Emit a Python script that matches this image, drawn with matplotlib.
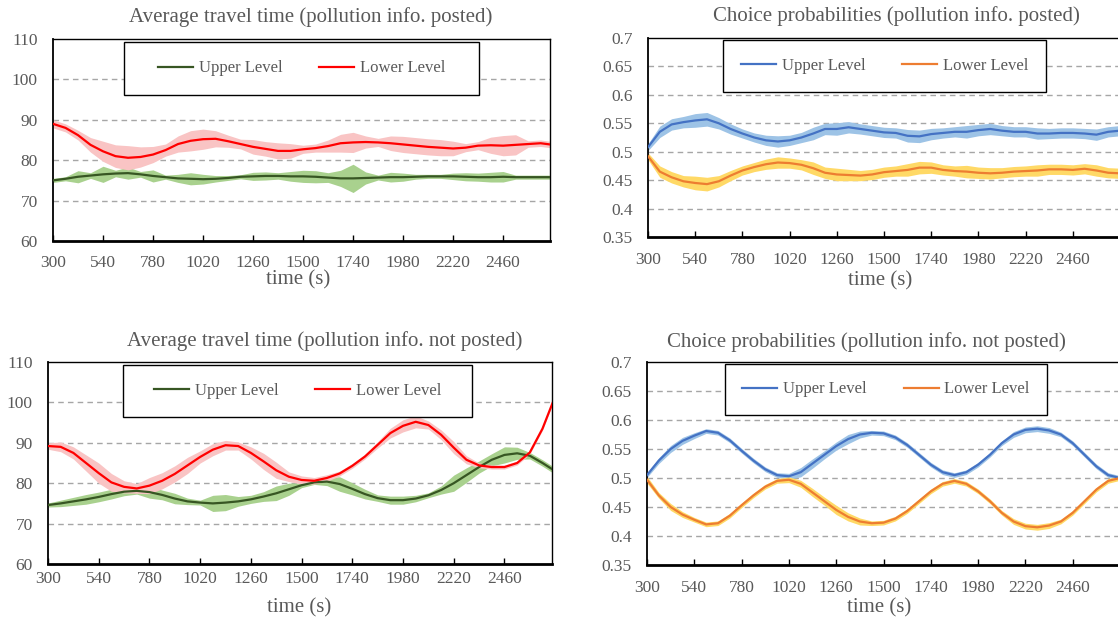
import matplotlib
matplotlib.use("Agg")
import matplotlib.pyplot as plt
from matplotlib.patches import Rectangle
import numpy as np

plt.rcParams['font.family'] = ['Liberation Serif', 'DejaVu Serif']

# sample times (s)
t = [300, 360, 420, 480, 540, 600, 660, 720, 780, 840,
     900, 960, 1020, 1080, 1140, 1200, 1260, 1320, 1380, 1440,
     1500, 1560, 1620, 1680, 1740, 1800, 1860, 1920, 1980, 2040,
     2100, 2160, 2220, 2280, 2340, 2400, 2460, 2520, 2580, 2640,
     2700]
xticks = [300, 540, 780, 1020, 1260, 1500, 1740, 1980, 2220, 2460]

# --- pollution info posted: travel time
tt_post_lower = [89.0, 88.0, 86.2, 83.8, 82.2, 81.0, 80.6, 80.8, 81.4, 82.5,
                 84.0, 84.8, 85.2, 85.3, 84.7, 84.0, 83.3, 82.8, 82.3, 82.3,
                 82.7, 83.0, 83.5, 84.2, 84.4, 84.5, 84.4, 84.2, 83.9, 83.6,
                 83.3, 83.1, 82.9, 83.1, 83.6, 83.7, 83.6, 83.8, 84.0, 84.2,
                 83.8]
tt_post_lower_sd = [1.0, 1.0, 1.2, 1.8, 2.5, 2.8, 3.0, 2.5, 2.0, 1.5,
                    2.0, 2.5, 2.5, 2.0, 1.5, 1.2, 1.8, 1.8, 2.0, 1.8,
                    1.0, 1.0, 1.5, 2.2, 2.5, 1.5, 1.0, 1.8, 2.0, 2.0,
                    2.0, 2.0, 1.8, 1.0, 1.0, 2.0, 2.5, 2.5, 0.8, 0.8,
                    0.8]
tt_post_upper = [75.0, 75.4, 75.9, 76.2, 76.5, 76.7, 76.8, 76.5, 76.1, 75.8,
                 75.5, 75.4, 75.3, 75.4, 75.6, 75.9, 76.0, 76.1, 76.1, 76.0,
                 76.0, 75.9, 75.7, 75.5, 75.5, 75.6, 75.7, 75.8, 75.8, 75.9,
                 76.0, 76.0, 76.0, 75.9, 75.8, 75.8, 75.9, 75.8, 75.8, 75.8,
                 75.8]
tt_post_upper_sd = [0.5, 0.5, 1.5, 0.7, 2.0, 0.8, 1.5, 0.7, 1.5, 0.5,
                    1.0, 1.5, 1.2, 0.8, 0.6, 0.5, 1.0, 1.0, 0.8, 1.2,
                    1.5, 1.5, 1.2, 2.0, 3.5, 1.5, 0.6, 1.2, 1.0, 0.6,
                    0.5, 0.5, 0.8, 1.0, 1.0, 1.2, 1.3, 0.5, 0.5, 0.5,
                    0.5]

# --- pollution info posted: choice probabilities
cp_post_upper = [0.508, 0.535, 0.548, 0.552, 0.555, 0.557, 0.550, 0.540, 0.532, 0.525,
                 0.520, 0.518, 0.520, 0.525, 0.532, 0.540, 0.540, 0.543, 0.540, 0.537,
                 0.534, 0.533, 0.528, 0.527, 0.531, 0.533, 0.535, 0.535, 0.538, 0.540,
                 0.537, 0.535, 0.535, 0.532, 0.532, 0.533, 0.533, 0.532, 0.530, 0.535,
                 0.537]
cp_post_upper_sd = [0.006, 0.010, 0.010, 0.010, 0.012, 0.012, 0.010, 0.009, 0.008, 0.008,
                    0.009, 0.010, 0.009, 0.009, 0.011, 0.010, 0.011, 0.010, 0.009, 0.009,
                    0.009, 0.009, 0.011, 0.011, 0.010, 0.009, 0.009, 0.011, 0.010, 0.010,
                    0.009, 0.009, 0.009, 0.010, 0.009, 0.009, 0.009, 0.009, 0.010, 0.009,
                    0.009]
cp_post_lower = [0.492, 0.465, 0.455, 0.448, 0.445, 0.443, 0.448, 0.458, 0.467, 0.473,
                 0.478, 0.481, 0.480, 0.477, 0.471, 0.463, 0.460, 0.459, 0.458, 0.460,
                 0.464, 0.466, 0.468, 0.472, 0.472, 0.468, 0.466, 0.465, 0.463, 0.462,
                 0.463, 0.465, 0.466, 0.467, 0.469, 0.469, 0.468, 0.470, 0.467, 0.463,
                 0.462]
cp_post_lower_sd = [0.006, 0.010, 0.010, 0.010, 0.012, 0.012, 0.010, 0.009, 0.008, 0.008,
                    0.009, 0.010, 0.009, 0.009, 0.011, 0.010, 0.011, 0.010, 0.009, 0.009,
                    0.009, 0.009, 0.011, 0.011, 0.010, 0.009, 0.009, 0.011, 0.010, 0.010,
                    0.009, 0.009, 0.009, 0.010, 0.009, 0.009, 0.009, 0.009, 0.010, 0.009,
                    0.009]

# --- pollution info not posted: travel time
tt_nopost_lower = [89.2, 89.0, 87.5, 85.0, 82.5, 80.2, 79.1, 78.7, 79.4, 80.6,
                   82.3, 84.4, 86.5, 88.3, 89.4, 89.2, 87.5, 85.4, 83.2, 81.6,
                   80.8, 80.6, 81.3, 82.4, 84.3, 86.6, 89.5, 92.4, 94.2, 95.2,
                   94.4, 92.0, 88.8, 85.8, 84.4, 84.0, 84.0, 85.0, 87.6, 93.5,
                   101.5]
tt_nopost_lower_sd = [0.8, 1.2, 1.5, 2.0, 2.5, 2.2, 1.5, 1.2, 2.0, 2.0,
                      2.0, 2.0, 1.5, 1.5, 1.2, 1.0, 1.5, 2.0, 2.0, 1.2,
                      1.0, 0.8, 0.8, 0.6, 0.6, 0.6, 0.8, 1.2, 1.5, 1.5,
                      1.0, 1.2, 1.5, 1.0, 0.6, 0.5, 0.5, 0.5, 0.4, 0.4,
                      0.4]
tt_nopost_upper = [74.6, 75.0, 75.5, 76.0, 76.6, 77.3, 77.9, 78.1, 77.8, 77.1,
                   76.2, 75.5, 75.2, 75.0, 75.2, 75.5, 76.0, 76.7, 77.5, 78.5,
                   79.5, 80.2, 80.4, 79.8, 78.6, 77.3, 76.3, 75.8, 75.8, 76.2,
                   77.0, 78.3, 80.0, 82.0, 84.0, 85.8, 87.0, 87.4, 86.8, 85.0,
                   83.0]
tt_nopost_upper_sd = [0.5, 0.8, 1.0, 1.2, 1.2, 1.2, 1.0, 0.8, 1.5, 1.2,
                      1.3, 0.8, 0.6, 2.0, 2.0, 1.2, 1.0, 1.2, 1.8, 1.5,
                      0.6, 0.5, 1.0, 1.8, 1.5, 1.2, 0.8, 1.0, 1.0, 0.8,
                      0.6, 1.0, 2.0, 1.8, 1.5, 1.5, 2.0, 1.5, 0.8, 0.8,
                      0.8]

# --- pollution info not posted: choice probabilities
cp_nopost_upper = [0.505, 0.530, 0.550, 0.564, 0.573, 0.581, 0.578, 0.565, 0.547, 0.530,
                   0.515, 0.505, 0.503, 0.510, 0.525, 0.540, 0.555, 0.567, 0.575, 0.578,
                   0.577, 0.570, 0.557, 0.540, 0.523, 0.510, 0.505, 0.510, 0.523, 0.540,
                   0.560, 0.575, 0.583, 0.585, 0.582, 0.575, 0.560, 0.540, 0.520, 0.505,
                   0.500]
cp_nopost_upper_sd = [0.004, 0.005, 0.006, 0.006, 0.005, 0.004, 0.004, 0.004, 0.004, 0.004,
                      0.004, 0.004, 0.005, 0.008, 0.008, 0.007, 0.007, 0.008, 0.006, 0.004,
                      0.004, 0.004, 0.004, 0.004, 0.004, 0.004, 0.004, 0.004, 0.004, 0.004,
                      0.004, 0.005, 0.005, 0.005, 0.005, 0.004, 0.004, 0.004, 0.004, 0.004,
                      0.004]
cp_nopost_lower = [0.497, 0.470, 0.450, 0.437, 0.428, 0.420, 0.422, 0.435, 0.453, 0.470,
                   0.485, 0.495, 0.497, 0.490, 0.475, 0.460, 0.445, 0.433, 0.425, 0.422,
                   0.423, 0.430, 0.443, 0.460, 0.477, 0.490, 0.495, 0.490, 0.477, 0.460,
                   0.440, 0.425, 0.417, 0.415, 0.418, 0.425, 0.440, 0.460, 0.480, 0.495,
                   0.500]
cp_nopost_lower_sd = [0.006, 0.005, 0.006, 0.005, 0.004, 0.004, 0.004, 0.004, 0.004, 0.004,
                      0.004, 0.004, 0.005, 0.006, 0.007, 0.007, 0.008, 0.007, 0.006, 0.004,
                      0.004, 0.004, 0.004, 0.004, 0.004, 0.004, 0.004, 0.004, 0.004, 0.004,
                      0.004, 0.005, 0.005, 0.005, 0.005, 0.004, 0.004, 0.004, 0.004, 0.004,
                      0.004]

GREY = '#595959'
W, H = 1118, 623
fig = plt.figure(figsize=(W / 100, H / 100), dpi=100)


def add_ax(l, t_, r, b):
    return fig.add_axes([l / W, 1 - b / H, (r - l) / W, (b - t_) / H])


def style(ax, ylim, yticks, ylabels, xmax, xpad):
    ax.set_xlim(300, xmax)
    ax.set_ylim(*ylim)
    ax.set_yticks(yticks)
    ax.set_yticklabels(ylabels)
    ax.set_xticks(xticks)
    ax.tick_params(axis='x', direction='in', length=4, width=1, colors='black',
                   labelcolor=GREY, labelsize=12.5, pad=xpad)
    ax.tick_params(axis='y', length=0, labelcolor=GREY, labelsize=12.5, pad=11)
    for y in yticks[1:-1]:
        ax.axhline(y, color='#A6A6A6', lw=1, ls=(0, (4, 3)), zorder=0)
    for s in ['top', 'right']:
        ax.spines[s].set_linewidth(1)
    ax.spines['left'].set_linewidth(1.3)
    ax.spines['bottom'].set_linewidth(2)


def draw(ax, up, up_sd, lo, lo_sd, cols):
    up, up_sd, lo, lo_sd = map(np.array, (up, up_sd, lo, lo_sd))
    ax.fill_between(t, up - up_sd, up + up_sd, color=cols[1], lw=0, zorder=1)
    ax.fill_between(t, lo - lo_sd, lo + lo_sd, color=cols[3], lw=0, zorder=1)
    l1, = ax.plot(t, up, color=cols[0], lw=1.6, zorder=3)
    l2, = ax.plot(t, lo, color=cols[2], lw=1.6, zorder=3)
    return l1, l2


def legend_box(ax, handles, x0, y0, x1, y1):
    ax.add_patch(Rectangle((x0, y0), x1 - x0, y1 - y0, transform=ax.transAxes,
                           facecolor='white', edgecolor='black', lw=1,
                           zorder=5, clip_on=False))
    leg = ax.legend(handles, ['Upper Level', 'Lower Level'], ncol=2, frameon=False,
                    loc='center', bbox_to_anchor=((x0 + x1) / 2, (y0 + y1) / 2),
                    fontsize=12, handlelength=2.1, handletextpad=0.35,
                    columnspacing=2.2, labelcolor=GREY)
    leg.set_zorder(6)


def label(x, y, s):
    fig.text(x / W, 1 - y / H, s, ha='center', va='center', fontsize=15, color=GREY)


tt_cols = ['#375623', '#A9D18E', '#FF0000', '#F9C4C4']
cp_cols = ['#4472C4', '#9DC3E6', '#ED7D31', '#FFD966']
tt_ticks = [60, 70, 80, 90, 100, 110]
cp_ticks = [0.35, 0.4, 0.45, 0.5, 0.55, 0.6, 0.65, 0.7]
cp_labels = ['0.35', '0.4', '0.45', '0.5', '0.55', '0.6', '0.65', '0.7']

# top-left
ax1 = add_ax(53, 39, 550, 241)
style(ax1, (60, 110), tt_ticks, [str(v) for v in tt_ticks], 2685, 10)
h = draw(ax1, tt_post_upper, tt_post_upper_sd, tt_post_lower, tt_post_lower_sd, tt_cols)
legend_box(ax1, h, 0.143, 0.723, 0.857, 0.985)
label(311, 17, 'Average travel time (pollution info. posted)')
label(298, 280, 'time (s)')

# top-right
ax2 = add_ax(648, 38, 1120, 237)
style(ax2, (0.35, 0.7), cp_ticks, cp_labels, 2700, 11)
h = draw(ax2, cp_post_upper, cp_post_upper_sd, cp_post_lower, cp_post_lower_sd, cp_cols)
legend_box(ax2, h, 0.159, 0.727, 0.843, 0.99)
label(896, 16, 'Choice probabilities (pollution info. posted)')
label(880, 281, 'time (s)')

# bottom-left
ax3 = add_ax(48, 362, 552, 564)
style(ax3, (60, 110), tt_ticks, [str(v) for v in tt_ticks], 2685, 5)
h = draw(ax3, tt_nopost_upper, tt_nopost_upper_sd, tt_nopost_lower, tt_nopost_lower_sd, tt_cols)
legend_box(ax3, h, 0.149, 0.727, 0.841, 0.985)
label(325, 341, 'Average travel time (pollution info. not posted)')
label(299, 608, 'time (s)')

# bottom-right
ax4 = add_ax(647, 362, 1120, 565)
style(ax4, (0.35, 0.7), cp_ticks, cp_labels, 2700, 11)
h = draw(ax4, cp_nopost_upper, cp_nopost_upper_sd, cp_nopost_lower, cp_nopost_lower_sd, cp_cols)
legend_box(ax4, h, 0.165, 0.74, 0.846, 0.99)
label(866, 342, 'Choice probabilities (pollution info. not posted)')
label(879, 608, 'time (s)')

fig.savefig('out.png', dpi=100)
